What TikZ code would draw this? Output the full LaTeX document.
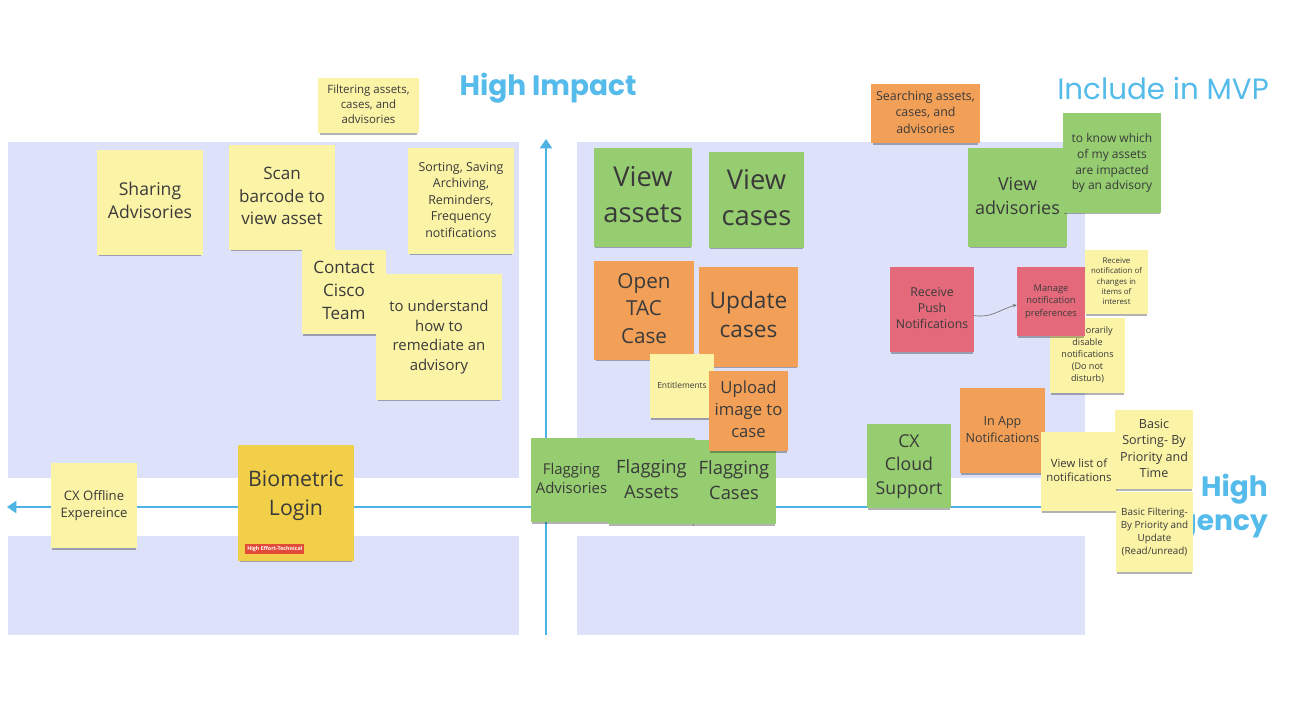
\documentclass[tikz,border=0pt]{standalone}
\usepackage{fontspec}
\setmainfont{Open Sans}
\newfontfamily\titlefont{Poppins}
\usetikzlibrary{shadows,arrows.meta}
\definecolor{lav}{HTML}{DDE1FA}
\definecolor{axis}{HTML}{4DB3E4}
\definecolor{ttl}{HTML}{55BBEA}
\definecolor{ylw}{HTML}{FBF3A6}
\definecolor{grn}{HTML}{95CD70}
\definecolor{org}{HTML}{F2A058}
\definecolor{rd}{HTML}{E4697A}
\definecolor{bio}{HTML}{F2CF48}
\definecolor{tag}{HTML}{E24B37}
\definecolor{txt}{HTML}{3A3A3A}
\newcommand\stick[8]{%
  \pgfmathsetmacro\sw{(#5-#3)*0.75}%
  \pgfmathsetmacro\sh{(#6-#4)*0.75}%
  \pgfmathsetmacro\cx{(#3+#5)/2}%
  \pgfmathsetmacro\cy{(#4+#6)/2}%
  \pgfmathsetmacro\bls{#7*1.32}%
  \pgfmathsetmacro\rs{#7*0.18}%
  \node[#2, font=\fontsize{#7pt}{\bls pt}\selectfont, minimum width=\sw pt, minimum height=\sh pt] (#1) at (\cx,\cy) {\raisebox{\rs pt}{\begin{tabular}{@{}c@{}}#8\end{tabular}}};}
\begin{document}
\begin{tikzpicture}[x=0.75pt,y=-0.75pt,
  note/.style={draw=none, inner sep=0pt, align=center, text=txt,
    drop shadow={shadow xshift=0pt, shadow yshift=-2.2pt, shadow scale=0.97, opacity=0.3, fill=black}},
  yel/.style={note, fill=ylw},
  gre/.style={note, fill=grn},
  ora/.style={note, fill=org},
  red/.style={note, fill=rd},
  bion/.style={note, fill=bio},
  quad/.style={fill=lav, draw=none},
  axisline/.style={draw=axis, line width=1.6pt, -{Triangle[width=9pt,length=7pt]}},
  title/.style={text=ttl, font=\titlefont\fontsize{22}{27}\selectfont, inner sep=0pt}
]
\useasboundingbox[fill=white] (0,0) rectangle (1312,718);
% quadrants
\fill[quad] (8,142) rectangle (519,478);
\fill[quad] (577,142) rectangle (1085,478);
\fill[quad] (8,536) rectangle (519,635);
\fill[quad] (577,536) rectangle (1085,635);
% axes
\coordinate (vb) at (546,635);
\coordinate (vt) at (546,139);
\coordinate (hr) at (1082,507);
\coordinate (hl) at (7,507);
\draw[axisline] (vb) -- (vt);
\draw[axisline] (hr) -- (hl);
% titles
\node[title, font=\titlefont\bfseries\fontsize{21}{26}\selectfont] (t1) at (548,88) {High Impact};
\node[title] (t2) at (1163,88) {Include in MVP};
\node[title, font=\titlefont\bfseries\fontsize{21}{26}\selectfont, align=right, anchor=east] (t3) at (1268,506) {High\\Urgency};
% notes left
\stick{filt}{yel}{318}{78}{419}{133}{8.6}{Filtering assets,\\cases, and\\advisories}
\stick{share}{yel}{97}{150}{203}{255}{13.2}{Sharing\\Advisories}
\stick{scan}{yel}{229}{145}{335}{250}{12.8}{Scan\\barcode to\\view asset}
\stick{sort}{yel}{408}{148}{514}{254}{9.3}{Sorting, Saving\\Archiving,\\Reminders,\\Frequency\\notifications}
\stick{contact}{yel}{302}{250}{386}{334}{12.8}{Contact\\Cisco\\Team}
\stick{underst}{yel}{376}{274}{502}{400}{11.2}{to understand\\how to\\remediate an\\advisory}
\stick{offline}{yel}{51}{463}{137}{548}{9.8}{CX Offline\\Expereince}
\stick{bio}{bion}{238}{445}{354}{561}{16}{}
\node[text=txt, align=center, font=\fontsize{16pt}{21.5pt}\selectfont, inner sep=0pt] (biotxt) at (296,496) {Biometric\\Login};
\node[fill=tag, text=white, font=\bfseries\fontsize{4}{5}\selectfont, inner xsep=1.5pt, inner ysep=1.5pt, anchor=west] (biotag) at (245,549) {High Effort-Technical};
% centre
\stick{vassets}{gre}{594}{148}{692}{247}{20.5}{View\\assets}
\stick{vcases}{gre}{709}{152}{804}{248}{20.5}{View\\cases}
\stick{tac}{ora}{594}{261}{694}{360}{15.5}{Open\\TAC\\Case}
\stick{upd}{ora}{699}{267}{798}{367}{17}{Update\\cases}
\stick{fadv}{gre}{531}{438}{612}{522}{11.2}{Flagging\\Advisories}
\stick{fass}{gre}{608}{438}{695}{524}{13.8}{Flagging\\Assets}
\stick{fcas}{gre}{692}{440}{776}{524}{13.8}{Flagging\\Cases}
\stick{ent}{yel}{650}{354}{714}{418}{6.3}{Entitlements}
\stick{upl}{ora}{709}{371}{788}{451}{12.5}{Upload\\image to\\case}
% right
\stick{search}{ora}{871}{84}{980}{143}{9.3}{Searching assets,\\cases, and\\advisories}
\stick{vadv}{gre}{968}{148}{1067}{247}{13.5}{View\\advisories}
\stick{know}{gre}{1063}{113}{1161}{213}{9}{to know which\\of my assets\\are impacted\\by an advisory}
\stick{push}{red}{890}{267}{974}{352}{9.2}{Receive\\Push\\Notifications}
\stick{tempd}{yel}{1050}{318}{1125}{393}{6.8}{Temporarily\\disable\\notifications\\(Do not\\disturb)}
\stick{manage}{red}{1017}{267}{1085}{336}{7}{Manage\\notification\\preferences}
\stick{recv}{yel}{1085}{250}{1148}{314}{5.9}{Receive\\notification of\\changes in\\items of\\interest}
\stick{inapp}{ora}{960}{388}{1045}{473}{9.4}{In App\\Notifications}
\stick{cloud}{gre}{867}{424}{951}{508}{13.3}{CX\\Cloud\\Support}
\stick{vlist}{yel}{1041}{432}{1117}{511}{8.5}{View list of\\notifications}
\stick{bsort}{yel}{1115}{410}{1193}{489}{9.4}{Basic\\Sorting- By\\Priority and\\Time}
\stick{bfilt}{yel}{1116}{492}{1193}{572}{7.4}{Basic Filtering-\\By Priority and\\Update\\(Read/unread)}
% connector
\draw[draw=black!55, line width=0.5pt, -{Stealth[length=3pt,width=2.5pt]}] ([yshift=-4.5pt]push.east) to[out=-10,in=195] ([yshift=-2.5pt]manage.west);
\end{tikzpicture}
\end{document}
